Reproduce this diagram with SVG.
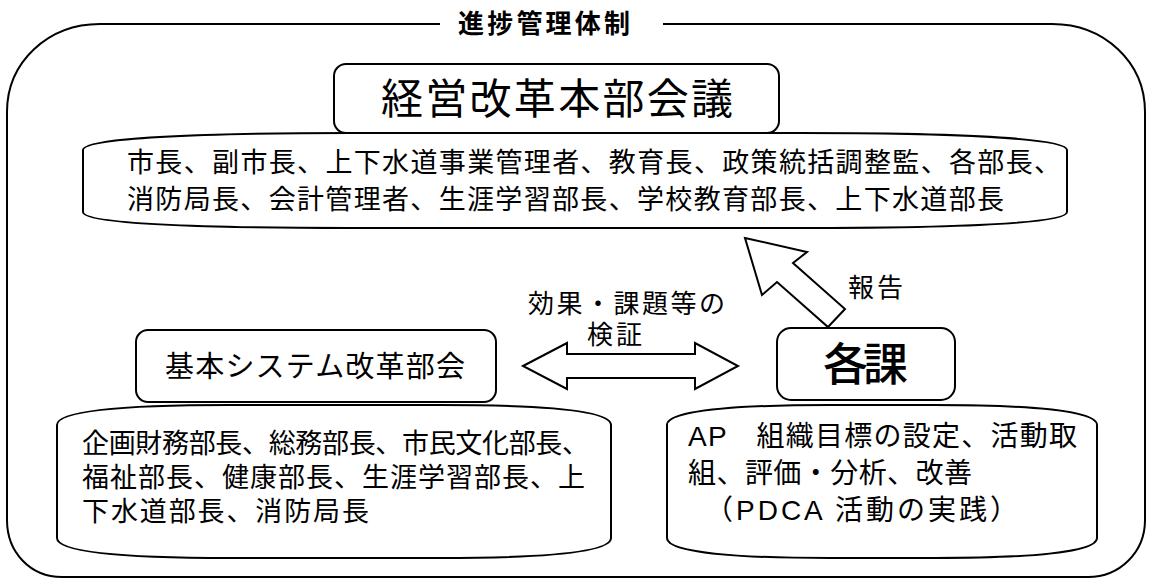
<svg xmlns="http://www.w3.org/2000/svg" width="1150" height="579" viewBox="0 0 1150 579">
<style>
.ln{fill:none;stroke:#000;stroke-width:2}
.bx{fill:#fff;stroke:#000;stroke-width:2}
.t{font-family:"Liberation Sans","Noto Sans CJK JP",sans-serif;fill:#000}
</style>
<rect width="1150" height="579" fill="#fff"/>
<g id="frame">
<path class="ln" d="M 440,24 L 100,24 C 48,24 7,62 7,112 L 7,520 C 7,552 30,577 62,577 L 1088,577 C 1120,577 1145,552 1145,520 L 1145,112 C 1145,62 1104,24 1052,24 L 663,24"/>
<text class="t" x="458" y="33" font-size="26" font-weight="bold" textLength="172" lengthAdjust="spacing">進捗管理体制</text>
</g>
<g id="connectors">
<polygon class="bx" points="745,238 807,252 793,263 845,309 828,327 777,282 762,295"/>
<polygon class="bx" points="523,366 567,343 567,354 695,354 695,343 738,366 695,389 695,378 567,378 567,389"/>
<text class="t" x="848" y="297" font-size="26" textLength="55" lengthAdjust="spacing">報告</text>
<text class="t" x="528" y="313" font-size="26" textLength="197" lengthAdjust="spacing">効果・課題等の</text>
<text class="t" x="587" y="344" font-size="26" textLength="55" lengthAdjust="spacing">検証</text>
</g>
<g id="hq">
<rect class="bx" x="334" y="64" width="445" height="69" rx="12"/>
<text class="t" x="381" y="114" font-size="42" textLength="352" lengthAdjust="spacing">経営改革本部会議</text>
</g>
<g id="hq-members">
<path class="bx" d="M 83,150 C 83,138 200,133 350,133 L 800,133 C 950,133 1067,138 1067,150 L 1067,212 C 1067,224 950,228 800,228 L 350,228 C 200,228 83,224 83,212 Z"/>
<text class="t" x="127" y="172" font-size="27" textLength="934" lengthAdjust="spacing">市長、副市長、上下水道事業管理者、教育長、政策統括調整監、各部長、</text>
<text class="t" x="127" y="209" font-size="27" textLength="877" lengthAdjust="spacing">消防局長、会計管理者、生涯学習部長、学校教育部長、上下水道部長</text>
</g>
<g id="subcommittee">
<rect class="bx" x="136" y="330" width="360" height="72" rx="12"/>
<text class="t" x="165" y="377" font-size="29" textLength="300" lengthAdjust="spacing">基本システム改革部会</text>
</g>
<g id="sub-members">
<path class="bx" d="M 57,425 C 57,410 130,405 230,405 L 440,405 C 540,405 611,410 611,425 L 611,538 C 611,553 540,558 440,558 L 230,558 C 130,558 57,553 57,538 Z"/>
<text class="t" x="82" y="453" font-size="27" textLength="507" lengthAdjust="spacing">企画財務部長、総務部長、市民文化部長、</text>
<text class="t" x="82" y="487" font-size="27" textLength="503" lengthAdjust="spacing">福祉部長、健康部長、生涯学習部長、上</text>
<text class="t" x="82" y="521" font-size="27" textLength="287" lengthAdjust="spacing">下水道部長、消防局長</text>
</g>
<g id="sections">
<rect class="bx" x="777" y="328" width="178" height="72" rx="14"/>
<text class="t" x="823" y="381" font-size="45" font-weight="500" textLength="85" lengthAdjust="spacing">各課</text>
</g>
<g id="section-activities">
<path class="bx" d="M 667,425 C 667,410 740,405 830,405 L 934,405 C 1024,405 1097,410 1097,425 L 1097,538 C 1097,553 1024,558 934,558 L 830,558 C 740,558 667,553 667,538 Z"/>
<text class="t" x="688" y="446" font-size="28" textLength="389" lengthAdjust="spacing">AP　組織目標の設定、活動取</text>
<text class="t" x="688" y="483" font-size="28" textLength="284" lengthAdjust="spacing">組、評価・分析、改善</text>
<text class="t" x="705" y="520" font-size="28" textLength="313" lengthAdjust="spacing">（PDCA 活動の実践）</text>
</g>
</svg>
